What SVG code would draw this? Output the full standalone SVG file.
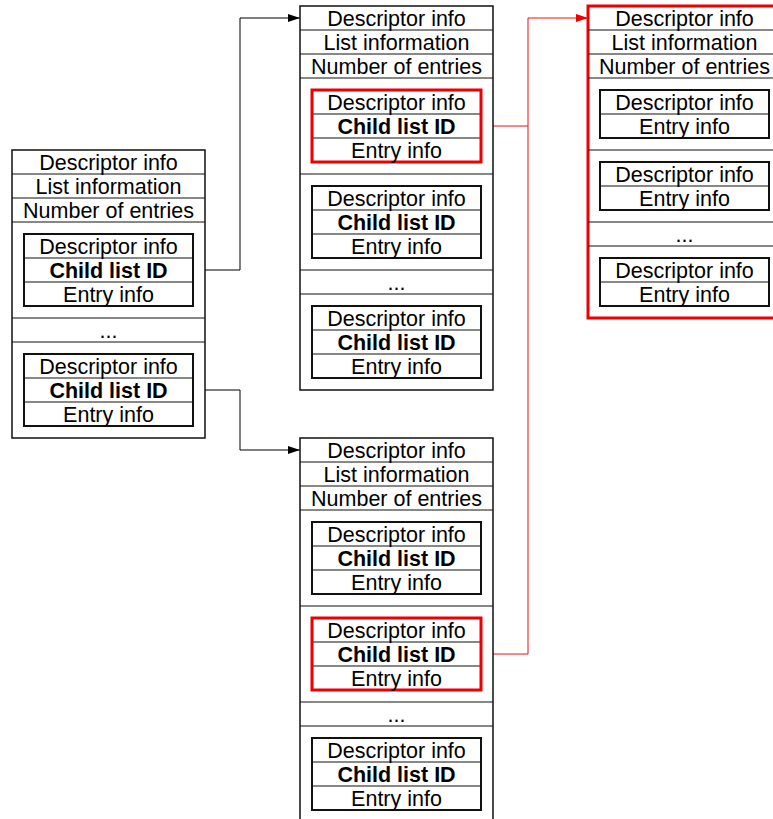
<svg xmlns="http://www.w3.org/2000/svg" width="773" height="819" viewBox="0 0 773 819">
<style>
  .bg{fill:#ffffff}
  .outer{fill:#ffffff;stroke:#111111;stroke-width:1.5}
  .outer-red{fill:#ffffff;stroke:#ee0000;stroke-width:3}
  .entry{fill:none;stroke:#111111;stroke-width:2}
  .entry-red{fill:none;stroke:#ee0000;stroke-width:3}
  .div{stroke:#111111;stroke-width:1}
  text{font-family:"Liberation Sans",Arial,sans-serif;font-size:21.5px;fill:#000000;text-anchor:middle}
  .b{font-weight:bold}
  .conn{fill:none;stroke:#000000;stroke-width:1}
  .conn-red{fill:none;stroke:#f01010;stroke-width:1}
</style>
<defs>
  <marker id="ah" viewBox="0 0 12 8" refX="12" refY="4" markerWidth="12" markerHeight="8" markerUnits="userSpaceOnUse" orient="auto">
    <path d="M0,0 L12,4 L0,8 Z" fill="#000000"/>
  </marker>
  <marker id="ahr" viewBox="0 0 12 8" refX="12" refY="4" markerWidth="12" markerHeight="8" markerUnits="userSpaceOnUse" orient="auto">
    <path d="M0,0 L12,4 L0,8 Z" fill="#ee0000"/>
  </marker>
</defs>
<rect class="bg" x="0" y="0" width="773" height="819"/>

<g id="connectors">
  <path class="conn" d="M193,270 H240 V18 H300" marker-end="url(#ah)"/>
  <path class="conn" d="M193,390 H240 V450 H300" marker-end="url(#ah)"/>
  <path class="conn-red" d="M481,126 H528 V18 H588" marker-end="url(#ahr)"/>
  <path class="conn-red" d="M481,654 H528 V126"/>
</g>

<g id="list-root">
  <rect class="outer" x="12" y="150" width="193" height="288"/>
  <line class="div" x1="12" y1="174" x2="205" y2="174"/>
  <line class="div" x1="12" y1="198" x2="205" y2="198"/>
  <line class="div" x1="12" y1="222" x2="205" y2="222"/>
  <line class="div" x1="12" y1="318" x2="205" y2="318"/>
  <line class="div" x1="12" y1="342" x2="205" y2="342"/>
  <text x="108.5" y="169.5">Descriptor info</text>
  <text x="108.5" y="193.5">List information</text>
  <text x="108.5" y="217.5">Number of entries</text>
  <g id="root-entry-1">
    <rect class="entry" x="24" y="234" width="169" height="72"/>
    <line class="div" x1="24" y1="258" x2="193" y2="258"/>
    <line class="div" x1="24" y1="282" x2="193" y2="282"/>
    <text x="108.5" y="253.5">Descriptor info</text>
    <text class="b" x="108.5" y="277.5">Child list ID</text>
    <text x="108.5" y="301.5">Entry info</text>
  </g>
  <text x="108.5" y="337.5">...</text>
  <g id="root-entry-2">
    <rect class="entry" x="24" y="354" width="169" height="72"/>
    <line class="div" x1="24" y1="378" x2="193" y2="378"/>
    <line class="div" x1="24" y1="402" x2="193" y2="402"/>
    <text x="108.5" y="373.5">Descriptor info</text>
    <text class="b" x="108.5" y="397.5">Child list ID</text>
    <text x="108.5" y="421.5">Entry info</text>
  </g>
</g>

<g id="list-a">
  <rect class="outer" x="300" y="6" width="193" height="384"/>
  <line class="div" x1="300" y1="30" x2="493" y2="30"/>
  <line class="div" x1="300" y1="54" x2="493" y2="54"/>
  <line class="div" x1="300" y1="78" x2="493" y2="78"/>
  <line class="div" x1="300" y1="174" x2="493" y2="174"/>
  <line class="div" x1="300" y1="270" x2="493" y2="270"/>
  <line class="div" x1="300" y1="294" x2="493" y2="294"/>
  <text x="396.5" y="25.5">Descriptor info</text>
  <text x="396.5" y="49.5">List information</text>
  <text x="396.5" y="73.5">Number of entries</text>
  <g id="a-entry-1">
    <line class="div" x1="312" y1="114" x2="481" y2="114"/>
    <line class="div" x1="312" y1="138" x2="481" y2="138"/>
    <rect class="entry-red" x="312" y="90" width="169" height="72"/>
    <text x="396.5" y="109.5">Descriptor info</text>
    <text class="b" x="396.5" y="133.5">Child list ID</text>
    <text x="396.5" y="157.5">Entry info</text>
  </g>
  <g id="a-entry-2">
    <rect class="entry" x="312" y="186" width="169" height="72"/>
    <line class="div" x1="312" y1="210" x2="481" y2="210"/>
    <line class="div" x1="312" y1="234" x2="481" y2="234"/>
    <text x="396.5" y="205.5">Descriptor info</text>
    <text class="b" x="396.5" y="229.5">Child list ID</text>
    <text x="396.5" y="253.5">Entry info</text>
  </g>
  <text x="396.5" y="289.5">...</text>
  <g id="a-entry-3">
    <rect class="entry" x="312" y="306" width="169" height="72"/>
    <line class="div" x1="312" y1="330" x2="481" y2="330"/>
    <line class="div" x1="312" y1="354" x2="481" y2="354"/>
    <text x="396.5" y="325.5">Descriptor info</text>
    <text class="b" x="396.5" y="349.5">Child list ID</text>
    <text x="396.5" y="373.5">Entry info</text>
  </g>
</g>

<g id="list-b">
  <rect class="outer" x="300" y="438" width="193" height="384"/>
  <line class="div" x1="300" y1="462" x2="493" y2="462"/>
  <line class="div" x1="300" y1="486" x2="493" y2="486"/>
  <line class="div" x1="300" y1="510" x2="493" y2="510"/>
  <line class="div" x1="300" y1="606" x2="493" y2="606"/>
  <line class="div" x1="300" y1="702" x2="493" y2="702"/>
  <line class="div" x1="300" y1="726" x2="493" y2="726"/>
  <text x="396.5" y="457.5">Descriptor info</text>
  <text x="396.5" y="481.5">List information</text>
  <text x="396.5" y="505.5">Number of entries</text>
  <g id="b-entry-1">
    <rect class="entry" x="312" y="522" width="169" height="72"/>
    <line class="div" x1="312" y1="546" x2="481" y2="546"/>
    <line class="div" x1="312" y1="570" x2="481" y2="570"/>
    <text x="396.5" y="541.5">Descriptor info</text>
    <text class="b" x="396.5" y="565.5">Child list ID</text>
    <text x="396.5" y="589.5">Entry info</text>
  </g>
  <g id="b-entry-2">
    <line class="div" x1="312" y1="642" x2="481" y2="642"/>
    <line class="div" x1="312" y1="666" x2="481" y2="666"/>
    <rect class="entry-red" x="312" y="618" width="169" height="72"/>
    <text x="396.5" y="637.5">Descriptor info</text>
    <text class="b" x="396.5" y="661.5">Child list ID</text>
    <text x="396.5" y="685.5">Entry info</text>
  </g>
  <text x="396.5" y="721.5">...</text>
  <g id="b-entry-3">
    <rect class="entry" x="312" y="738" width="169" height="72"/>
    <line class="div" x1="312" y1="762" x2="481" y2="762"/>
    <line class="div" x1="312" y1="786" x2="481" y2="786"/>
    <text x="396.5" y="757.5">Descriptor info</text>
    <text class="b" x="396.5" y="781.5">Child list ID</text>
    <text x="396.5" y="805.5">Entry info</text>
  </g>
</g>

<g id="list-c">
  <rect class="outer-red" x="588" y="6" width="193" height="312"/>
  <line class="div" x1="588" y1="30" x2="781" y2="30"/>
  <line class="div" x1="588" y1="54" x2="781" y2="54"/>
  <line class="div" x1="588" y1="78" x2="781" y2="78"/>
  <line class="div" x1="588" y1="150" x2="781" y2="150"/>
  <line class="div" x1="588" y1="222" x2="781" y2="222"/>
  <line class="div" x1="588" y1="246" x2="781" y2="246"/>
  <text x="684.5" y="25.5">Descriptor info</text>
  <text x="684.5" y="49.5">List information</text>
  <text x="684.5" y="73.5">Number of entries</text>
  <g id="c-entry-1">
    <rect class="entry" x="600" y="90" width="169" height="48"/>
    <line class="div" x1="600" y1="114" x2="769" y2="114"/>
    <text x="684.5" y="109.5">Descriptor info</text>
    <text x="684.5" y="133.5">Entry info</text>
  </g>
  <g id="c-entry-2">
    <rect class="entry" x="600" y="162" width="169" height="48"/>
    <line class="div" x1="600" y1="186" x2="769" y2="186"/>
    <text x="684.5" y="181.5">Descriptor info</text>
    <text x="684.5" y="205.5">Entry info</text>
  </g>
  <text x="684.5" y="241.5">...</text>
  <g id="c-entry-3">
    <rect class="entry" x="600" y="258" width="169" height="48"/>
    <line class="div" x1="600" y1="282" x2="769" y2="282"/>
    <text x="684.5" y="277.5">Descriptor info</text>
    <text x="684.5" y="301.5">Entry info</text>
  </g>
</g>
</svg>
